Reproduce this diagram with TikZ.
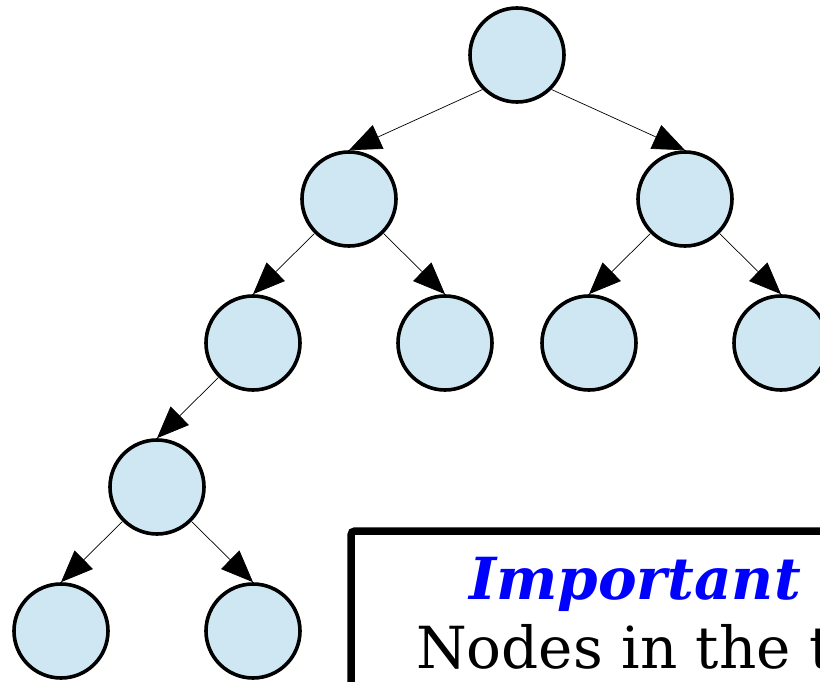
\documentclass[tikz,border=0pt]{standalone}
\usepackage{fontspec}
\setmainfont{DejaVu Serif}
\usetikzlibrary{arrows.meta}
\definecolor{nodeblue}{RGB}{207,230,243}
\tikzset{
  treenode/.style={circle, draw, line width=3.6pt, fill=nodeblue,
    minimum size=94pt, inner sep=0pt},
  treeedge/.style={-{Triangle[length=32pt,width=26pt]}, line width=0.7pt},
}
\begin{document}
\begin{tikzpicture}

\newcommand\X{96pt};
\newcommand\Y{144pt};

\useasboundingbox (-61pt,55pt) rectangle (759pt,-627pt); %% spacing

\node[treenode] (root) at (4.75*\X, 0*\Y) {};
\node[treenode] (l) at (3*\X, -1*\Y) {};
\node[treenode] (r) at (6.5*\X, -1*\Y) {};
\node[treenode] (ll) at (2*\X, -2*\Y) {};
\node[treenode] (lr) at (4*\X, -2*\Y) {};
\node[treenode] (rl) at (5.5*\X, -2*\Y) {};
\node[treenode] (rr) at (7.5*\X, -2*\Y) {};
\node[treenode] (lll) at (1*\X, -3*\Y) {};
\node[treenode] (llll) at (0*\X, -4*\Y) {};
\node[treenode] (lllr) at (2*\X, -4*\Y) {};

\draw[treeedge] (root.south west) -- (l.north);
\draw[treeedge] (root.south east) -- (r.north);
\draw[treeedge] (l.south west) -- (ll.north);
\draw[treeedge] (l.south east) -- (lr.north);
\draw[treeedge] (r.south west) -- (rl.north);
\draw[treeedge] (r.south east) -- (rr.north);
\draw[treeedge] (ll.south west) -- (lll.north);
\draw[treeedge] (lll.south west) -- (llll.north);
\draw[treeedge] (lll.south east) -- (lllr.north);

%% note box
\draw[line width=7.5pt, rounded corners=4pt, fill=white]
(290pt,-476pt) rectangle (1000pt,-800pt);
\node[anchor=base, inner sep=0pt, text=blue, font=\fontsize{58}{70}\selectfont\bfseries\itshape]
(imp) at (574pt,-544pt) {Important};
\node[anchor=base west, inner sep=0pt, font=\fontsize{58}{70}\selectfont]
(txt) at (355pt,-613pt) {Nodes in the t};

\end{tikzpicture}
\end{document}
